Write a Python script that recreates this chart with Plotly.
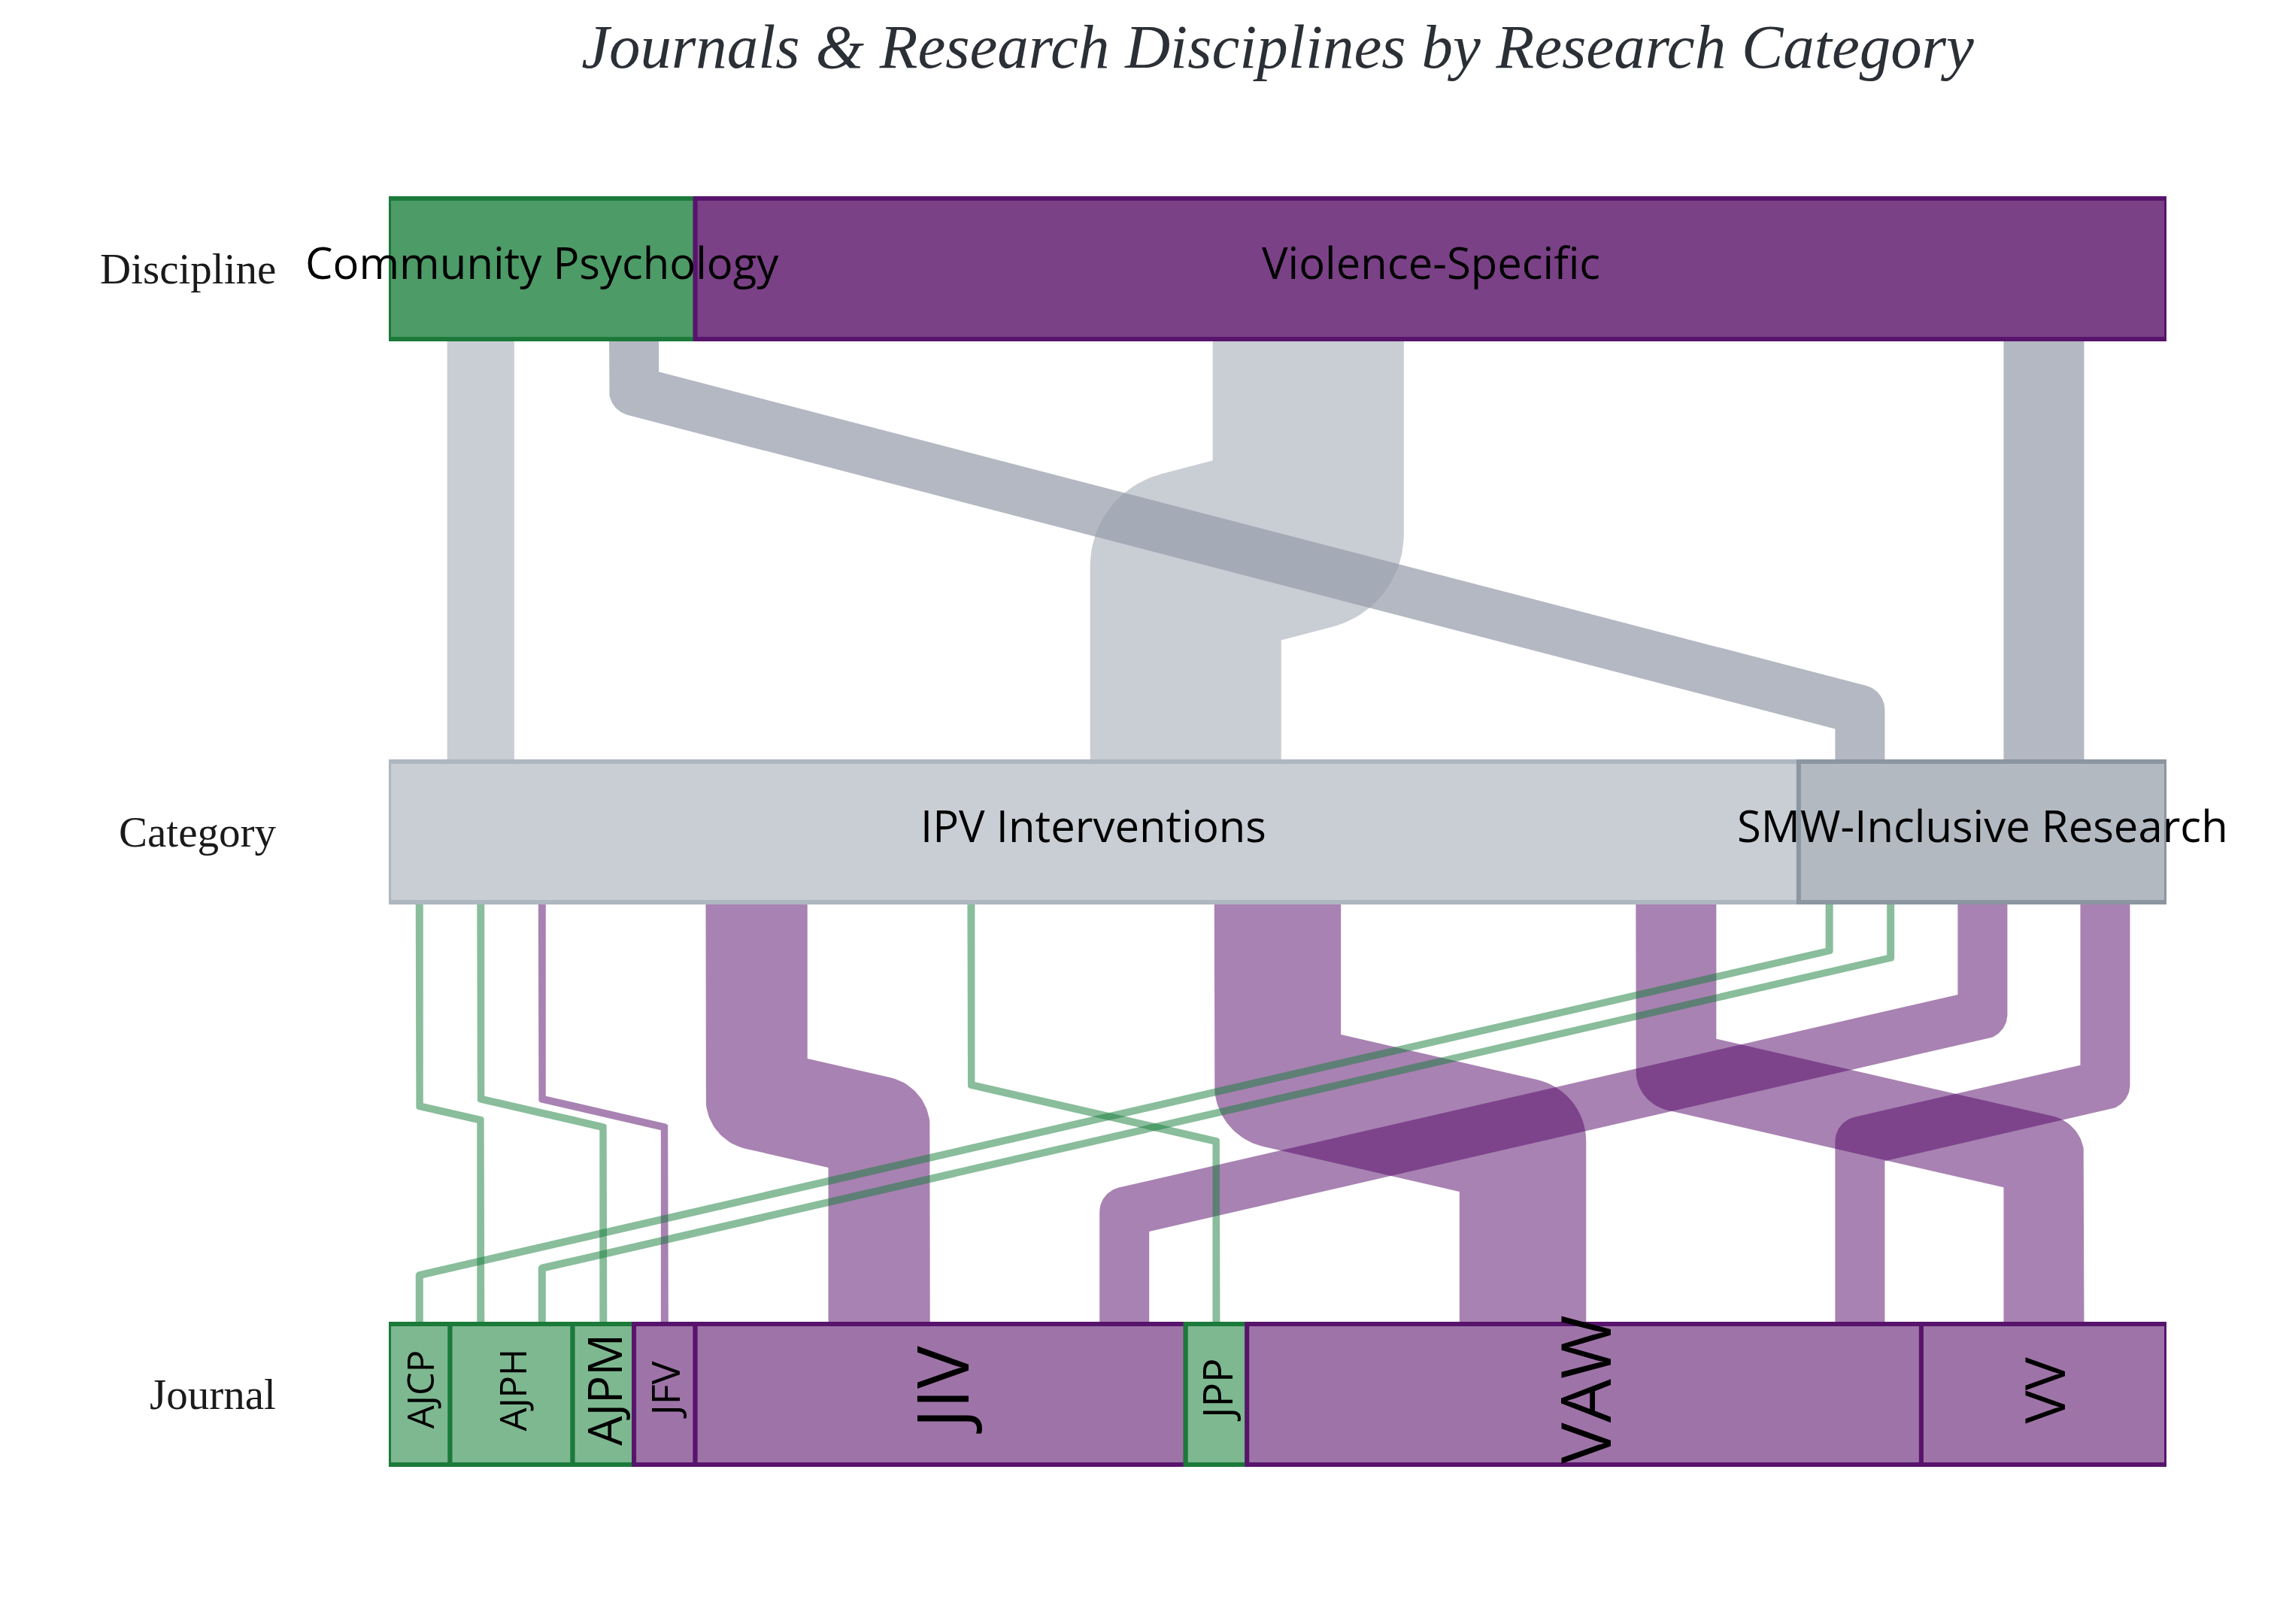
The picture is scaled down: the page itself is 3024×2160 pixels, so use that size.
import numpy as np
import plotly.graph_objects as go

# ---------------- data ----------------
dimension_labels = ["Discipline", "Category", "Journal"]
disciplines = ["Community Psychology", "Violence-Specific"]
categories = ["IPV Interventions", "SMW-Inclusive Research"]
journals = ["AJCP", "AJPH", "AJPM", "JFV", "JIV", "JPP", "VAW", "VV"]
journal_discipline = ["Community Psychology", "Community Psychology", "Community Psychology",
                      "Violence-Specific", "Violence-Specific", "Community Psychology",
                      "Violence-Specific", "Violence-Specific"]
ipv_counts = [0, 1, 1, 1, 6, 1, 9, 4]   # IPV Interventions articles per journal
smw_counts = [1, 1, 0, 0, 2, 0, 2, 0]   # SMW-Inclusive Research articles per journal

# ---------------- styles ----------------
W, H = 3024, 2160
PLOT_L, PLOT_R = 517, 2881
LEVEL_TOP = {"Discipline": 264, "Category": 1013, "Journal": 1761}
BOX_H = 187
SLOPE_TOP = 0.26
SLOPE_BOTTOM = 0.23

GREEN = (23, 125, 58)
PURPLE = (84, 10, 104)
disc_style = {
    "Community Psychology": dict(fill="#4D9B67", line="#1B7A3A", ribbon=GREEN, jfill="#7EB890"),
    "Violence-Specific": dict(fill="#7A4187", line="#58146C", ribbon=PURPLE, jfill="#9E74A8"),
}
cat_style = {
    "IPV Interventions": dict(fill="#C9CED5", line="#AEB6C0", ribbon="rgba(150,157,170,0.51)"),
    "SMW-Inclusive Research": dict(fill="#B3B9C1", line="#8C96A1", ribbon="rgba(150,157,170,0.72)"),
}
journal_font = {"AJCP": 49, "AJPH": 49, "AJPM": 62, "JFV": 52, "JIV": 95, "JPP": 54, "VAW": 92, "VV": 74}

# ---------------- derived layout ----------------
counts = {}
for j, d, a, b in zip(journals, journal_discipline, ipv_counts, smw_counts):
    counts[(d, categories[0], j)] = a
    counts[(d, categories[1], j)] = b
total = sum(counts.values())
U = (PLOT_R - PLOT_L) / total


def cum_extents(names, sizes):
    ext, s = {}, 0
    for n, v in zip(names, sizes):
        ext[n] = (s, s + v)
        s += v
    return ext


disc_tot = [sum(v for (d, c, j), v in counts.items() if d == dd) for dd in disciplines]
cat_tot = [sum(v for (d, c, j), v in counts.items() if c == cc) for cc in categories]
jour_tot = [a + b for a, b in zip(ipv_counts, smw_counts)]
disc_ext = cum_extents(disciplines, disc_tot)
cat_ext = cum_extents(categories, cat_tot)
jour_ext = cum_extents(journals, jour_tot)


def offset_side(pts, h, side):
    dirs, norms = [], []
    for i in range(len(pts) - 1):
        d = pts[i + 1] - pts[i]
        d = d / np.hypot(d[0], d[1])
        dirs.append(d)
        norms.append(np.array([-d[1], d[0]]) * side)
    out = [pts[0] + norms[0] * h]
    for i in range(1, len(pts) - 1):
        J = pts[i]
        da, db, na, nb = dirs[i - 1], dirs[i], norms[i - 1], norms[i]
        cross = da[0] * db[1] - da[1] * db[0]
        if cross * side > 0:
            A = np.array([da, -db]).T
            t, _ = np.linalg.solve(A, (J + nb * h) - (J + na * h))
            out.append(J + na * h + t * da)
        else:
            a0 = np.arctan2(na[1], na[0])
            a1 = np.arctan2(nb[1], nb[0])
            delta = (a1 - a0 + np.pi) % (2 * np.pi) - np.pi
            for k in range(25):
                a = a0 + delta * k / 24
                out.append(J + h * np.array([np.cos(a), np.sin(a)]))
    out.append(pts[-1] + norms[-1] * h)
    return np.array(out)


def ribbon(xs_u, ys, xt_u, yt, n, slope):
    xs = PLOT_L + xs_u * U
    xt = PLOT_L + xt_u * U
    width = 10 + 56 * np.sqrt(n - 1)
    h = width / 2
    ymid = (ys + yt) / 2
    dx = xt - xs
    if abs(dx) < 1e-6:
        pts = np.array([[xs, ys], [xt, yt]], float)
    else:
        half = slope * abs(dx) / 2
        pts = np.array([[xs, ys], [xs, ymid - half], [xt, ymid + half], [xt, yt]], float)
    left = offset_side(pts, h, 1)
    right = offset_side(pts, h, -1)
    poly = np.vstack([left, right[::-1], left[:1]])
    return (poly[:, 0] - PLOT_L) / U, poly[:, 1]


fig = go.Figure()

# ---- ribbons Discipline -> Category ----
dc = {(d, c): sum(v for (dd, cc, j), v in counts.items() if dd == d and cc == c)
      for d in disciplines for c in categories}
src_off = {d: disc_ext[d][0] for d in disciplines}
tgt_off = {c: cat_ext[c][0] for c in categories}
src_pos, tgt_pos = {}, {}
for d in disciplines:
    for c in categories:
        n = dc[(d, c)]
        src_pos[(d, c)] = src_off[d] + n / 2
        src_off[d] += n
for c in categories:
    for d in disciplines:
        n = dc[(d, c)]
        tgt_pos[(d, c)] = tgt_off[c] + n / 2
        tgt_off[c] += n
for d in disciplines:
    for c in categories:
        n = dc[(d, c)]
        if n <= 0:
            continue
        x, y = ribbon(src_pos[(d, c)], LEVEL_TOP["Discipline"] + BOX_H,
                      tgt_pos[(d, c)], LEVEL_TOP["Category"], n, SLOPE_TOP)
        fig.add_trace(go.Scatter(x=x, y=y, fill="toself", fillcolor=cat_style[c]["ribbon"],
                                 mode="lines", line=dict(width=0), hoverinfo="skip"))

# ---- ribbons Category -> Journal ----
cj = {(c, j): (ipv_counts[k] if c == categories[0] else smw_counts[k])
      for k, j in enumerate(journals) for c in categories}
src_off = {c: cat_ext[c][0] for c in categories}
tgt_off = {j: jour_ext[j][0] for j in journals}
src_pos, tgt_pos = {}, {}
for c in categories:
    for j in journals:
        n = cj[(c, j)]
        src_pos[(c, j)] = src_off[c] + n / 2
        src_off[c] += n
for j in journals:
    for c in categories:
        n = cj[(c, j)]
        tgt_pos[(c, j)] = tgt_off[j] + n / 2
        tgt_off[j] += n
jdisc = dict(zip(journals, journal_discipline))
for disc_draw in ["Violence-Specific", "Community Psychology"]:
    for c in categories:
        for j in journals:
            n = cj[(c, j)]
            if n <= 0 or jdisc[j] != disc_draw:
                continue
            r, g, b = disc_style[jdisc[j]]["ribbon"]
            col = f"rgba({r},{g},{b},0.51)"
            x, y = ribbon(src_pos[(c, j)], LEVEL_TOP["Category"] + BOX_H,
                          tgt_pos[(c, j)], LEVEL_TOP["Journal"], n, SLOPE_BOTTOM)
            fig.add_trace(go.Scatter(x=x, y=y, fill="toself", fillcolor=col,
                                     mode="lines", line=dict(width=0), hoverinfo="skip"))

# ---- boxes & labels ----
shapes, annotations = [], []


def add_box(x0, x1, level, fill, line):
    y0 = LEVEL_TOP[level]
    shapes.append(dict(type="rect", xref="x", yref="y", x0=x0, x1=x1, y0=y0, y1=y0 + BOX_H,
                       fillcolor=fill, line=dict(color=line, width=6), layer="above"))


for d in disciplines:
    a, b = disc_ext[d]
    add_box(a, b, "Discipline", disc_style[d]["fill"], disc_style[d]["line"])
    annotations.append(dict(x=(a + b) / 2, y=LEVEL_TOP["Discipline"] + BOX_H / 2 - 9, text=d,
                            showarrow=False, xanchor="center", yanchor="middle",
                            font=dict(family="Open Sans", size=58, color="black")))
for c in categories:
    a, b = cat_ext[c]
    add_box(a, b, "Category", cat_style[c]["fill"], cat_style[c]["line"])
    annotations.append(dict(x=(a + b) / 2, y=LEVEL_TOP["Category"] + BOX_H / 2 - 9, text=c,
                            showarrow=False, xanchor="center", yanchor="middle",
                            font=dict(family="Open Sans", size=58, color="black")))
for j in journals:
    a, b = jour_ext[j]
    st = disc_style[jdisc[j]]
    add_box(a, b, "Journal", st["jfill"], st["line"])
    annotations.append(dict(x=(a + b) / 2, y=LEVEL_TOP["Journal"] + BOX_H / 2 - 6, text=j,
                            showarrow=False, xanchor="center", yanchor="middle", textangle=-90,
                            font=dict(family="Open Sans", size=journal_font[j], color="black")))

for lab in dimension_labels:
    annotations.append(dict(xref="paper", x=(369 - PLOT_L) / (PLOT_R - PLOT_L),
                            y=LEVEL_TOP[lab] + BOX_H / 2, yref="y", text=lab, showarrow=False,
                            xanchor="right", yanchor="middle",
                            font=dict(family="Liberation Serif", size=57, color="#1a1a1a")))

fig.update_layout(
    width=W, height=H,
    margin=dict(l=PLOT_L, r=W - PLOT_R, t=0, b=0, pad=0),
    paper_bgcolor="white", plot_bgcolor="white",
    showlegend=False, hovermode=False,
    xaxis=dict(range=[0, total], visible=False, fixedrange=True),
    yaxis=dict(range=[H, 0], visible=False, fixedrange=True),
    shapes=shapes, annotations=annotations,
    title=dict(text="Journals & Research Disciplines by Research Category",
               x=0.5, xref="paper", xanchor="center",
               y=1 - 61 / H, yref="container", yanchor="middle",
               font=dict(family="Liberation Serif", size=83, style="italic", color="#2b2f36")),
)

fig.write_html("out.html")
